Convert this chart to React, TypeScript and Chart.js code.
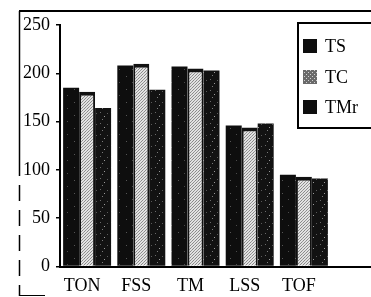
import React, { useEffect, useRef } from "react";
import { Chart, registerables } from "chart.js";

Chart.register(...registerables);

const categories = ["TON", "FSS", "TM", "LSS", "TOF"];
const seriesNames = ["TS", "TC", "TMr"];
const tsValues = [185, 208, 207, 146, 95];
const tcValues = [181, 210, 205, 144, 93];
const tmrValues = [164, 183, 203, 148, 91];
const yTicks = [0, 50, 100, 150, 200, 250];

const FONT = "'Liberation Serif', 'Times New Roman', serif";

function makePattern(base: string, dots: [number, number, string][], size: number): CanvasPattern | string {
  const c = document.createElement("canvas");
  c.width = size;
  c.height = size;
  const ctx = c.getContext("2d");
  if (!ctx) return base;
  ctx.fillStyle = base;
  ctx.fillRect(0, 0, size, size);
  for (const [x, y, col] of dots) {
    ctx.fillStyle = col;
    ctx.fillRect(x, y, 1, 1);
  }
  return ctx.createPattern(c, "repeat") || base;
}

export default function App() {
  const ref = useRef<HTMLCanvasElement | null>(null);

  useEffect(() => {
    if (!ref.current) return;
    const tcPattern = makePattern("#e2e2e2", [[0, 0, "#8a8a8a"], [2, 1, "#9a9a9a"], [1, 2, "#8a8a8a"]], 3);
    const tmrPattern = makePattern("#121212", [[1, 2, "#6a6a6a"], [5, 6, "#9a9a9a"], [8, 3, "#5a5a5a"], [3, 9, "#7a7a7a"]], 11);
    const tsPattern = makePattern("#0e0e0e", [[2, 4, "#4a4a4a"], [9, 11, "#555"]], 13);
    const legendTc = makePattern("#6a6a6a", [[0, 0, "#d0d0d0"], [2, 2, "#d0d0d0"]], 4);

    const decor = {
      id: "decor",
      afterDraw(chart: any) {
        const ctx = chart.ctx;
        const a = chart.chartArea;
        ctx.save();
        ctx.strokeStyle = "#000";
        ctx.lineWidth = 2;
        ctx.beginPath();
        ctx.moveTo(a.right - 1, a.bottom + 0.5);
        ctx.lineTo(371, a.bottom + 0.5);
        ctx.stroke();
        ctx.lineWidth = 2;
        ctx.beginPath();
        ctx.moveTo(19, 11);
        ctx.lineTo(371, 11);
        ctx.stroke();
        ctx.lineWidth = 1.5;
        ctx.beginPath();
        ctx.moveTo(19.5, 11);
        ctx.lineTo(19.5, 160);
        ctx.stroke();
        ctx.setLineDash([16, 9]);
        ctx.beginPath();
        ctx.moveTo(19.5, 160);
        ctx.lineTo(19.5, 296);
        ctx.stroke();
        ctx.setLineDash([]);
        ctx.lineWidth = 1;
        ctx.beginPath();
        ctx.moveTo(19, 295.5);
        ctx.lineTo(45, 295.5);
        ctx.stroke();
        ctx.lineWidth = 2;
        ctx.fillStyle = "#fff";
        ctx.fillRect(298, 23, 75, 105);
        ctx.strokeRect(298, 23, 76, 105);
        const ys = [46, 77, 107];
        const fills = ["#0e0e0e", legendTc, "#0e0e0e"];
        ctx.font = `18px ${FONT}`;
        ctx.textBaseline = "middle";
        seriesNames.forEach((name, i) => {
          ctx.fillStyle = fills[i] as any;
          ctx.fillRect(303, ys[i] - 7, 14, 14);
          ctx.fillStyle = "#000";
          ctx.fillText(name, 325, ys[i] + 1);
        });
        ctx.restore();
      },
    };

    const chart = new Chart(ref.current, {
      type: "bar",
      data: {
        labels: categories,
        datasets: [
          { label: seriesNames[0], data: tsValues, backgroundColor: tsPattern as any, borderWidth: 0 },
          {
            label: seriesNames[1],
            data: tcValues,
            backgroundColor: tcPattern as any,
            borderColor: "#111",
            borderWidth: { left: 2, right: 2, top: 4, bottom: 0 },
          },
          { label: seriesNames[2], data: tmrValues, backgroundColor: tmrPattern as any, borderWidth: 0 },
        ],
      },
      options: {
        animation: false,
        responsive: false,
        maintainAspectRatio: false,
        events: [],
        layout: { padding: { top: 25, right: 40, left: 0, bottom: 0 } },
        datasets: { bar: { categoryPercentage: 0.885, barPercentage: 1.0 } },
        plugins: { legend: { display: false }, tooltip: { enabled: false } },
        scales: {
          x: {
            grid: { display: true, drawOnChartArea: false, drawTicks: false },
            border: { display: true, color: "#000", width: 2 },
            ticks: {
              color: "#000",
              font: { family: FONT, size: 18 },
              padding: 9,
              labelOffset: -5,
              maxRotation: 0,
              autoSkip: false,
            },
            afterFit: (s: any) => {
              s.height = 30.5;
            },
          },
          y: {
            min: 0,
            max: 250,
            afterBuildTicks: (s: any) => {
              s.ticks = yTicks.map((v) => ({ value: v }));
            },
            grid: { display: true, drawOnChartArea: false, drawTicks: true, tickLength: 4, color: "#000", lineWidth: 1.5 },
            border: { display: true, color: "#000", width: 2 },
            ticks: {
              color: "#000",
              font: { family: FONT, size: 18 },
              padding: 6,
            },
            afterFit: (s: any) => {
              s.width = 60;
            },
          },
        },
      },
      plugins: [decor],
    });
    return () => chart.destroy();
  }, []);

  return (
    <div style={{ position: "fixed", left: 0, top: 0, width: 371, height: 297, background: "#fff" }}>
      <canvas ref={ref} width={371} height={297} style={{ width: 371, height: 297, display: "block" }} />
    </div>
  );
}
